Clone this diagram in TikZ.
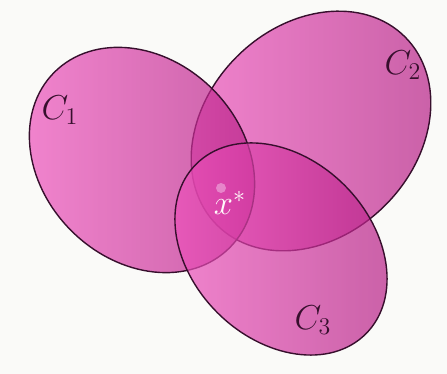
\documentclass[tikz,border=0pt]{standalone}
\usepackage{amsmath,amssymb}
\usepackage{xcolor}
\usepackage{tikz}
\usetikzlibrary{positioning}

\definecolor{bgwhite}{RGB}{250,250,248}
\definecolor{setlight}{RGB}{240,84,190}
\definecolor{setdark}{RGB}{180,30,132}
\definecolor{rimline}{RGB}{55,15,45}
\definecolor{dotpink}{RGB}{235,150,210}

\begin{document}
\begin{tikzpicture}[x=0.5pt, y=0.5pt]
				% Styles
				\tikzstyle{setfill} = [left color=setlight, right color=setdark, fill opacity=0.7]
				\tikzstyle{setrim} = [draw=rimline, line width=0.7pt]
				\tikzstyle{setlabel} = [font=\fontsize{17}{20}\selectfont, text=rimline, inner sep=0pt]

				% Background and bounding box
				\fill [bgwhite] (0,0) rectangle (447,374);
				\useasboundingbox (0,0) rectangle (447,374);

				% Convex sets (drawn back to front)
				\shade [setfill, rotate around={45:(311,243)}] (311,243) ellipse [x radius=133, y radius=105];
				\draw [setrim, rotate around={45:(311,243)}] (311,243) ellipse [x radius=133, y radius=105];
				\shade [setfill, rotate around={-45:(142,214)}] (142,214) ellipse [x radius=124, y radius=100];
				\draw [setrim, rotate around={-45:(142,214)}] (142,214) ellipse [x radius=124, y radius=100];
				\shade [setfill, rotate around={-45:(281,125)}] (281,125) ellipse [x radius=120, y radius=90];
				\draw [setrim, rotate around={-45:(281,125)}] (281,125) ellipse [x radius=120, y radius=90];

				% Labels
				\node (c1) [setlabel] at (60,264) {$C_1$};
				\node (c2) [setlabel] at (403,309) {$C_2$};
				\node (c3) [setlabel] at (313,54) {$C_3$};

				% Optimal point
				\fill [dotpink, fill opacity=0.8] (221,186) circle [radius=5];
				\node (xstar) [setlabel, text=white!92!pink] at (230,171) {$x^{*}$};

			\end{tikzpicture}
\end{document}
